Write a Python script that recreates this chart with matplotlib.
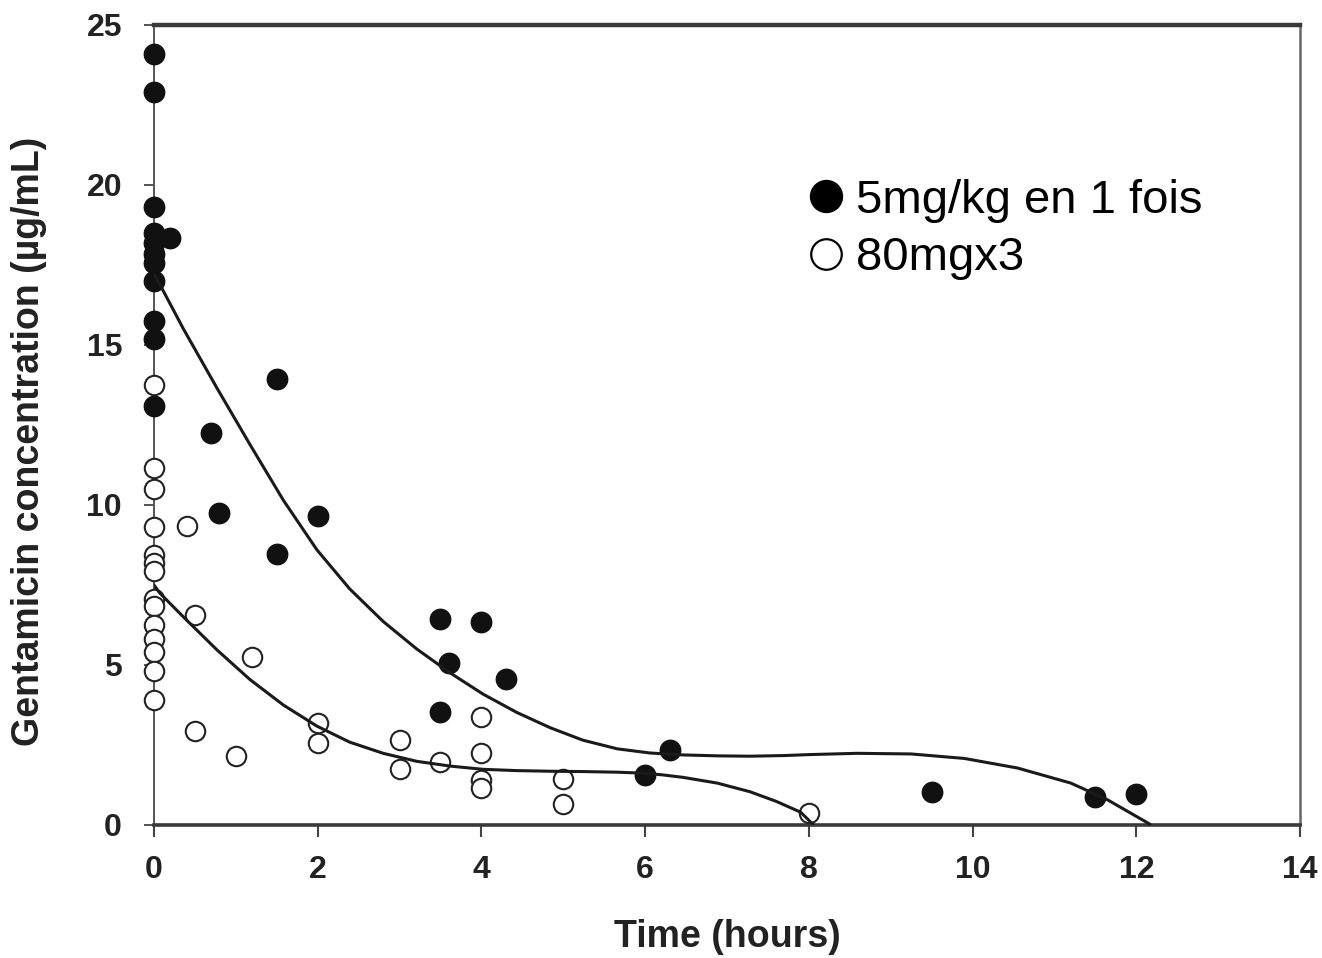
import matplotlib
matplotlib.use("Agg")
import matplotlib.pyplot as plt
from matplotlib.lines import Line2D

plt.rcParams['font.family'] = ['Liberation Sans', 'DejaVu Sans']

# ---- data ----
single_x = [0, 0, 0, 0, 0, 0, 0, 0, 0, 0, 0, 0.2, 1.5, 0.7, 0.8, 2.0, 1.5,
            3.5, 4.0, 3.6, 4.3, 3.5, 6.3, 6.0, 9.5, 11.5, 12.0]
single_y = [24.1, 22.9, 19.3, 18.5, 18.2, 17.85, 17.55, 17.0, 15.75, 15.2, 13.1, 18.35,
            13.94, 12.25, 9.75, 9.66, 8.47,
            6.44, 6.35, 5.06, 4.56, 3.53, 2.34, 1.56, 1.03, 0.87, 0.97]

multi_x = [0, 0, 0, 0, 0, 0, 0, 0, 0, 0, 0, 0, 0, 0,
           0.4, 0.5, 1.2, 0.5, 1.0, 2.0, 2.0, 3.0, 3.0, 3.5,
           4.0, 4.0, 4.0, 4.0, 5.0, 5.0, 8.0]
multi_y = [13.75, 11.15, 10.5, 9.3, 8.45, 8.2, 7.95, 7.05, 6.85, 6.25, 5.8, 5.4, 4.8, 3.9,
           9.34, 6.56, 5.25, 2.94, 2.16, 3.19, 2.56, 2.66, 1.75, 1.97,
           3.37, 2.25, 1.41, 1.15, 1.43, 0.66, 0.37]

# fitted curves
fit_single_x = [0.0, 0.07, 0.36, 0.77, 1.17, 1.58, 1.99, 2.39, 2.80, 3.21, 3.62, 4.02,
                4.43, 4.84, 5.24, 5.66, 6.06, 6.46, 6.9, 7.28, 7.7, 8.0, 8.59, 9.25, 9.9,
                10.55, 11.2, 11.64, 12.17]
fit_single_y = [17.2, 16.9, 15.5, 13.65, 11.9, 10.15, 8.6, 7.38, 6.36, 5.5, 4.75, 4.09,
                3.52, 3.04, 2.65, 2.38, 2.25, 2.19, 2.16, 2.15, 2.17, 2.2, 2.24, 2.22, 2.08,
                1.78, 1.31, 0.8, 0.02]

fit_multi_x = [0.0, 0.07, 0.36, 0.77, 1.17, 1.58, 1.99, 2.39, 2.8, 3.21, 3.62, 4.02,
               4.43, 4.84, 5.24, 5.66, 5.98, 6.2, 6.46, 6.88, 7.28, 7.6, 7.9, 8.05]
fit_multi_y = [7.5, 7.25, 6.5, 5.47, 4.55, 3.75, 3.09, 2.59, 2.24, 1.99, 1.84, 1.74,
               1.7, 1.68, 1.67, 1.65, 1.62, 1.57, 1.49, 1.31, 1.04, 0.74, 0.4, 0.02]

x_ticks = [0, 2, 4, 6, 8, 10, 12, 14]
y_ticks = [0, 5, 10, 15, 20, 25]
labels = ['5mg/kg en 1 fois', '80mgx3']
x_label = 'Time (hours)'
y_label = 'Gentamicin concentration (\u00b5g/mL)'

# ---- figure ----
fig = plt.figure(figsize=(13.22, 9.58), dpi=100)
ax = fig.add_axes([154/1322, 133/958, 1146/1322, 800/958])

ax.plot(single_x, single_y, 'o', ms=14.5, mfc='#111111', mec='#111111', mew=1.2, zorder=3, clip_on=False)
ax.plot(multi_x, multi_y, 'o', ms=14, mfc='white', mec='#222222', mew=1.5, zorder=3, clip_on=False)
ax.plot(fit_single_x, fit_single_y, '-', color='#1a1a1a', lw=2.2, zorder=4,
        solid_capstyle='round', solid_joinstyle='round')
ax.plot(fit_multi_x, fit_multi_y, '-', color='#1a1a1a', lw=2.2, zorder=4,
        solid_capstyle='round', solid_joinstyle='round')

ax.set_xlim(0, 14)
ax.set_ylim(0, 25)
ax.set_xticks(x_ticks)
ax.set_yticks(y_ticks)
ax.set_xticklabels([str(t) for t in x_ticks], fontsize=23, fontweight='bold', color='#222222')
ax.set_yticklabels([str(t) for t in y_ticks], fontsize=23, fontweight='bold', color='#222222')
ax.tick_params(axis='x', direction='out', length=8.5, width=1.5, color='#444444', pad=13)
ax.tick_params(axis='y', direction='out', length=7, width=1.3, color='#444444', pad=16)

ax.spines['top'].set_linewidth(3.2)
ax.spines['top'].set_color('#3a3a3a')
ax.spines['bottom'].set_linewidth(2.6)
ax.spines['bottom'].set_color('#3a3a3a')
ax.spines['left'].set_linewidth(1.4)
ax.spines['left'].set_color('#555555')
ax.spines['right'].set_linewidth(1.8)
ax.spines['right'].set_color('#666666')

ax.set_xlabel(x_label, fontsize=27, fontweight='bold', color='#222222')
ax.xaxis.set_label_coords(0.5, -0.117)
ax.xaxis.label.set_va('top')
ax.set_ylabel(y_label, fontsize=27, fontweight='bold', color='#222222')
ax.yaxis.set_label_coords(-0.093, 0.479)

handles = [Line2D([], [], ls='none', marker='o', ms=23, mfc='black', mec='black'),
           Line2D([], [], ls='none', marker='o', ms=22, mfc='white', mec='black', mew=1.6)]
leg = ax.legend(handles, labels, loc='upper left', bbox_to_anchor=(809/1322, 1 - 179/958),
                bbox_transform=fig.transFigure, frameon=False, fontsize=34,
                handlelength=0.7, handletextpad=0.3, labelspacing=0.28, borderpad=0,
                borderaxespad=0)

fig.savefig('out.png', dpi=100)
